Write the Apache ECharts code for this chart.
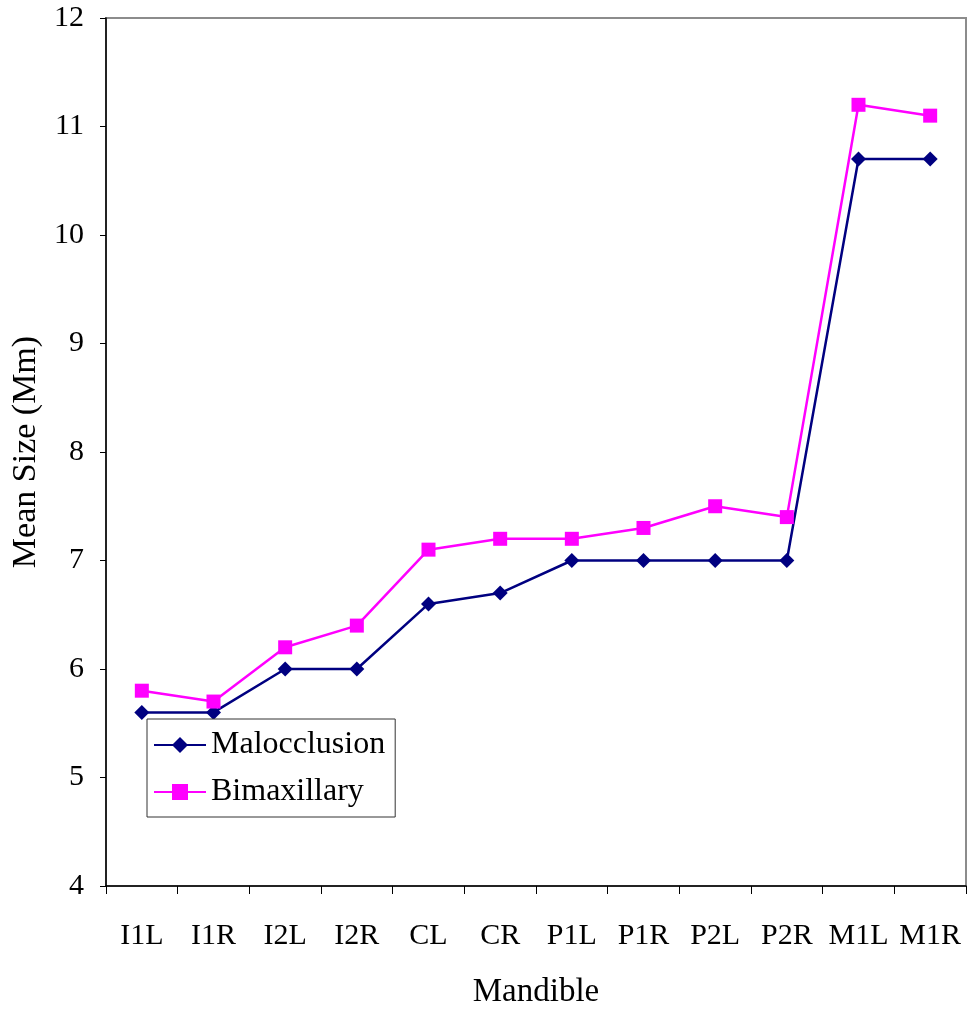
<!DOCTYPE html>
<html>
<head>
<meta charset="utf-8">
<script src="https://cdn.jsdelivr.net/npm/echarts@6/dist/echarts.min.js"></script>
<style>
  html, body { margin: 0; padding: 0; background: #fff; }
  #chart { width: 967px; height: 1012px; }
</style>
</head>
<body>
<div id="chart"></div>
<script>
// Mean mesiodistal tooth size per mandibular tooth
const teeth = ['I1L', 'I1R', 'I2L', 'I2R', 'CL', 'CR', 'P1L', 'P1R', 'P2L', 'P2R', 'M1L', 'M1R'];
const malocclusion = [5.6, 5.6, 6.0, 6.0, 6.6, 6.7, 7.0, 7.0, 7.0, 7.0, 10.7, 10.7];
const bimaxillary = [5.8, 5.7, 6.2, 6.4, 7.1, 7.2, 7.2, 7.3, 7.5, 7.4, 11.2, 11.1];
const yTicks = [4, 5, 6, 7, 8, 9, 10, 11, 12];

const FONT = '"Liberation Serif", "DejaVu Serif", serif';

const chart = echarts.init(document.getElementById('chart'), null, { renderer: 'canvas' });
chart.setOption({
  backgroundColor: '#ffffff',
  animation: false,
  textStyle: { fontFamily: FONT, color: '#000' },
  grid: {
    left: 106, top: 18, right: 1, bottom: 126,
    outerBoundsMode: 'none',
    containLabel: false,
    show: true, borderColor: '#8c8c8c', borderWidth: 2
  },
  legend: {
    orient: 'vertical',
    left: 147, top: 719,
    backgroundColor: '#fff',
    borderColor: '#333',
    borderWidth: 1,
    padding: [10, 10, 9, 6],
    itemGap: 15,
    itemWidth: 52,
    itemHeight: 20,
    textStyle: { fontFamily: FONT, fontSize: 32, color: '#000' },
    data: ['Malocclusion', 'Bimaxillary']
  },
  xAxis: {
    type: 'category',
    data: teeth,
    boundaryGap: true,
    name: 'Mandible',
    nameLocation: 'middle',
    nameGap: 90,
    nameTextStyle: { fontFamily: FONT, fontSize: 33, color: '#000' },
    axisLine: { show: true, lineStyle: { color: '#000', width: 1.5 } },
    axisTick: { show: true, length: 8, alignWithLabel: false, lineStyle: { color: '#000' } },
    axisLabel: { fontFamily: FONT, fontSize: 30, color: '#000', margin: 35, interval: 0 },
    splitLine: { show: false }
  },
  yAxis: {
    type: 'value',
    min: yTicks[0],
    max: yTicks[yTicks.length - 1],
    interval: 1,
    name: 'Mean Size (Mm)',
    nameLocation: 'middle',
    nameGap: 62,
    nameRotate: 90,
    nameTextStyle: { fontFamily: FONT, fontSize: 34, color: '#000' },
    axisLine: { show: true, lineStyle: { color: '#000', width: 1.5 } },
    axisTick: { show: true, inside: false, length: 6, lineStyle: { color: '#000' } },
    axisLabel: { fontFamily: FONT, fontSize: 30, color: '#000', margin: 22 },
    splitLine: { show: false }
  },
  series: [
    {
      name: 'Malocclusion',
      type: 'line',
      data: malocclusion,
      symbol: 'diamond',
      symbolSize: 15,
      lineStyle: { color: '#000080', width: 2.5 },
      itemStyle: { color: '#000080' }
    },
    {
      name: 'Bimaxillary',
      type: 'line',
      data: bimaxillary,
      symbol: 'rect',
      symbolSize: 14,
      lineStyle: { color: '#ff00ff', width: 2.5 },
      itemStyle: { color: '#ff00ff' }
    }
  ]
});
</script>
</body>
</html>
